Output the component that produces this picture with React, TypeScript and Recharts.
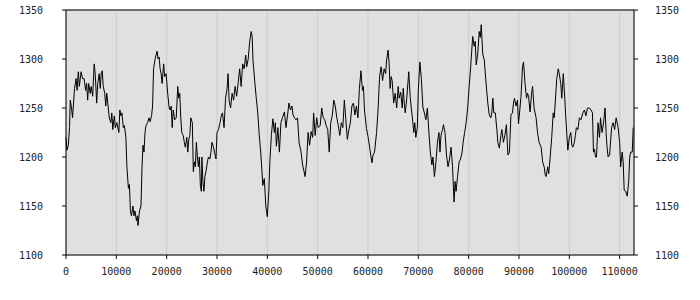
import { CartesianGrid, Line, LineChart, ReferenceLine, XAxis, YAxis } from "recharts"

const xs = [
  0, 200, 460, 700, 850, 1100, 1300, 1700, 2000, 2200, 2450, 2650, 3000, 3300, 3600, 3900, 4100, 4300, 4500, 4800,
  5000, 5300, 5600, 5800, 6100, 6300, 6600, 6800, 7000, 7200, 7400, 7700, 7900, 8100, 8400, 8600, 8900, 9100, 9300, 9600,
  9800, 10100, 10500, 10700, 10900, 11100, 11400, 11600, 11900, 12100, 12400, 12600, 12800, 13000, 13300, 13500, 13700, 14000, 14200, 14300,
  14600, 14900, 15100, 15300, 15500, 15700, 15900, 16200, 16500, 16700, 17000, 17200, 17400, 17700, 18100, 18300, 18500, 18700, 18900, 19100,
  19400, 19600, 19900, 20200, 20500, 20700, 20900, 21100, 21300, 21600, 21900, 22200, 22400, 22600, 22800, 23000, 23300, 23500, 23700, 24000,
  24200, 24400, 24600, 24800, 25100, 25300, 25500, 25700, 25900, 26100, 26300, 26500, 26700, 26900, 27000, 27200, 27400, 27600, 27800, 28100,
  28300, 28600, 28800, 29000, 29300, 29500, 29800, 30000, 30300, 30600, 30900, 31100, 31400, 31700, 32000, 32200, 32400, 32700, 33000, 33300,
  33600, 33900, 34200, 34500, 34800, 35100, 35400, 35700, 35900, 36200, 36500, 36800, 37000, 37150, 37500, 37800, 38100, 38400, 38700, 38900,
  39100, 39400, 39700, 40000, 40300, 40500, 40800, 41100, 41400, 41600, 41800, 42100, 42400, 42700, 43000, 43400, 43700, 44000, 44300, 44600,
  44900, 45100, 45400, 45700, 46000, 46300, 46700, 47000, 47300, 47500, 47800, 48100, 48400, 48700, 49000, 49200, 49500, 49800, 50100, 50500,
  50800, 51100, 51400, 51700, 52000, 52300, 52600, 52900, 53200, 53500, 53800, 54100, 54400, 54700, 55000, 55300, 55600, 55900, 56200, 56500,
  56800, 57100, 57400, 57700, 58000, 58300, 58600, 58900, 59100, 59300, 59700, 60000, 60300, 60600, 60800, 61000, 61300, 61700, 62000, 62300,
  62600, 62900, 63200, 63500, 63700, 64000, 64200, 64400, 64600, 64800, 65100, 65400, 65700, 66000, 66200, 66500, 66800, 67000, 67200, 67400,
  67700, 68100, 68400, 68600, 68800, 69100, 69300, 69500, 69800, 70000, 70300, 70600, 70900, 71200, 71500, 71800, 72100, 72400, 72700, 72900,
  73200, 73500, 73800, 74100, 74300, 74500, 74800, 75000, 75300, 75600, 75900, 76200, 76500, 76800, 77100, 77300, 77500, 77800, 78100, 78400,
  78700, 78900, 79200, 79500, 79800, 80100, 80400, 80800, 81100, 81300, 81500, 81800, 82100, 82300, 82500, 82800, 83100, 83400, 83800, 84100,
  84400, 84600, 84800, 85000, 85300, 85600, 85800, 86100, 86400, 86600, 86900, 87200, 87500, 87800, 88100, 88400, 88700, 88900, 89100, 89400,
  89700, 89900, 90200, 90400, 90700, 90900, 91200, 91500, 91700, 91900, 92200, 92500, 92700, 93000, 93400, 93700, 94000, 94400, 94700, 95000,
  95200, 95400, 95700, 95900, 96200, 96500, 96800, 97000, 97200, 97500, 97800, 98000, 98300, 98500, 98800, 99100, 99300, 99700, 100000, 100300,
  100500, 100700, 101000, 101200, 101400, 101700, 102000, 102300, 102700, 103000, 103300, 103600, 104000, 104300, 104600, 104800, 105000, 105200, 105400, 105700,
  106000, 106200, 106500, 106800, 107100, 107300, 107500, 107700, 108000, 108400, 108700, 109000, 109300, 109700, 110000, 110200, 110500, 110700, 110900, 111200,
  111500, 111800, 112000, 112200, 112500, 112700,
]

const values = [
  1220, 1207, 1212, 1230, 1258, 1250, 1240, 1270, 1280, 1268, 1287, 1272, 1287, 1280, 1280, 1268, 1275, 1258, 1275, 1265,
  1272, 1262, 1295, 1285, 1255, 1275, 1285, 1270, 1285, 1288, 1272, 1265, 1252, 1265, 1250, 1240, 1235, 1245, 1228, 1242,
  1230, 1235, 1225, 1248, 1242, 1245, 1230, 1232, 1220, 1190, 1168, 1172, 1145, 1140, 1150, 1140, 1145, 1135, 1140, 1130,
  1145, 1150, 1190, 1212, 1205, 1225, 1232, 1235, 1240, 1236, 1242, 1252, 1290, 1300, 1308, 1300, 1302, 1290, 1285, 1275,
  1295, 1282, 1285, 1265, 1250, 1248, 1252, 1230, 1248, 1238, 1240, 1272, 1260, 1265, 1240, 1225, 1222, 1215, 1210, 1220,
  1205, 1218, 1222, 1240, 1235, 1185, 1195, 1190, 1215, 1200, 1190, 1200, 1170, 1165, 1200, 1175, 1165, 1180, 1185, 1195,
  1200, 1198, 1205, 1215, 1210, 1205, 1198, 1225, 1228, 1235, 1243, 1245, 1230, 1260, 1270, 1285, 1258, 1250, 1265, 1258,
  1272, 1262, 1275, 1290, 1272, 1295, 1290, 1304, 1292, 1300, 1318, 1328, 1322, 1299, 1277, 1260, 1245, 1222, 1204, 1188,
  1171, 1178, 1150, 1139, 1165, 1195, 1222, 1239, 1225, 1235, 1211, 1230, 1205, 1235, 1240, 1246, 1230, 1242, 1255, 1248,
  1252, 1243, 1240, 1238, 1240, 1215, 1205, 1192, 1185, 1180, 1195, 1225, 1212, 1226, 1220, 1245, 1222, 1240, 1230, 1232,
  1250, 1240, 1238, 1232, 1228, 1205, 1235, 1242, 1258, 1252, 1240, 1232, 1222, 1235, 1230, 1258, 1238, 1218, 1228, 1235,
  1252, 1255, 1243, 1252, 1240, 1270, 1288, 1268, 1272, 1248, 1229, 1221, 1211, 1200, 1194, 1202, 1205, 1225, 1248, 1282,
  1292, 1278, 1290, 1285, 1299, 1309, 1295, 1270, 1282, 1278, 1255, 1265, 1250, 1272, 1260, 1266, 1250, 1270, 1255, 1245,
  1260, 1287, 1260, 1250, 1241, 1225, 1235, 1220, 1230, 1268, 1297, 1280, 1251, 1245, 1238, 1250, 1225, 1204, 1192, 1200,
  1180, 1195, 1215, 1225, 1205, 1222, 1228, 1233, 1225, 1202, 1190, 1198, 1210, 1190, 1154, 1175, 1165, 1180, 1195, 1198,
  1205, 1215, 1225, 1235, 1250, 1272, 1292, 1323, 1313, 1318, 1294, 1305, 1328, 1322, 1335, 1305, 1299, 1279, 1255, 1243,
  1240, 1245, 1260, 1245, 1245, 1228, 1215, 1209, 1222, 1228, 1215, 1222, 1233, 1202, 1205, 1243, 1245, 1255, 1260, 1252,
  1258, 1234, 1250, 1262, 1292, 1297, 1275, 1260, 1265, 1262, 1246, 1265, 1272, 1250, 1240, 1224, 1215, 1210, 1195, 1190,
  1182, 1180, 1190, 1183, 1200, 1220, 1245, 1240, 1255, 1280, 1290, 1285, 1275, 1260, 1285, 1260, 1240, 1207, 1220, 1225,
  1212, 1210, 1215, 1222, 1230, 1228, 1240, 1238, 1245, 1248, 1242, 1250, 1250, 1248, 1245, 1205, 1208, 1200, 1200, 1235,
  1220, 1240, 1225, 1235, 1250, 1225, 1210, 1200, 1202, 1230, 1235, 1228, 1240, 1230, 1215, 1190, 1205, 1195, 1166, 1165,
  1160, 1175, 1200, 1205, 1205, 1230,
]

const xTicks = [0, 10000, 20000, 30000, 40000, 50000, 60000, 70000, 80000, 90000, 100000, 110000]
const yTicks = [1100, 1150, 1200, 1250, 1300, 1350]

const data = xs.map((x, i) => ({ x, value: values[i] }))

const tickStyle = { fontFamily: "DejaVu Sans Mono", fontSize: 10, fill: "#222" }

export default function App() {
  return (
    <div style={{ position: "absolute", left: 0, top: 0 }}>
      <LineChart width={700} height={300} data={data} margin={{ top: 10, right: 0, bottom: 15, left: 0 }}>
        <CartesianGrid fill="#e0e0e0" stroke="#cdcdcd" verticalPoints={undefined} />
        <XAxis
          dataKey="x"
          type="number"
          domain={[0, 112850]}
          ticks={xTicks}
          interval={0}
          height={30}
          tickSize={4}
          tickMargin={9}
          stroke="#000"
          tick={tickStyle}
        />
        <YAxis
          yAxisId="left"
          type="number"
          domain={[1100, 1350]}
          ticks={yTicks}
          interval={0}
          width={66}
          tickSize={4}
          tickMargin={19}
          stroke="#000"
          tick={tickStyle}
        />
        <YAxis
          yAxisId="right"
          orientation="right"
          type="number"
          domain={[1100, 1350]}
          ticks={yTicks}
          interval={0}
          width={66}
          tickSize={4}
          tickMargin={17}
          stroke="#000"
          tick={tickStyle}
        />
        <ReferenceLine yAxisId="left" y={1350} stroke="#000" />
        <Line
          yAxisId="left"
          type="linear"
          dataKey="value"
          stroke="#000"
          strokeWidth={1}
          dot={false}
          isAnimationActive={false}
        />
        <Line
          yAxisId="right"
          type="linear"
          dataKey="value"
          stroke="none"
          dot={false}
          activeDot={false}
          isAnimationActive={false}
        />
      </LineChart>
    </div>
  )
}
